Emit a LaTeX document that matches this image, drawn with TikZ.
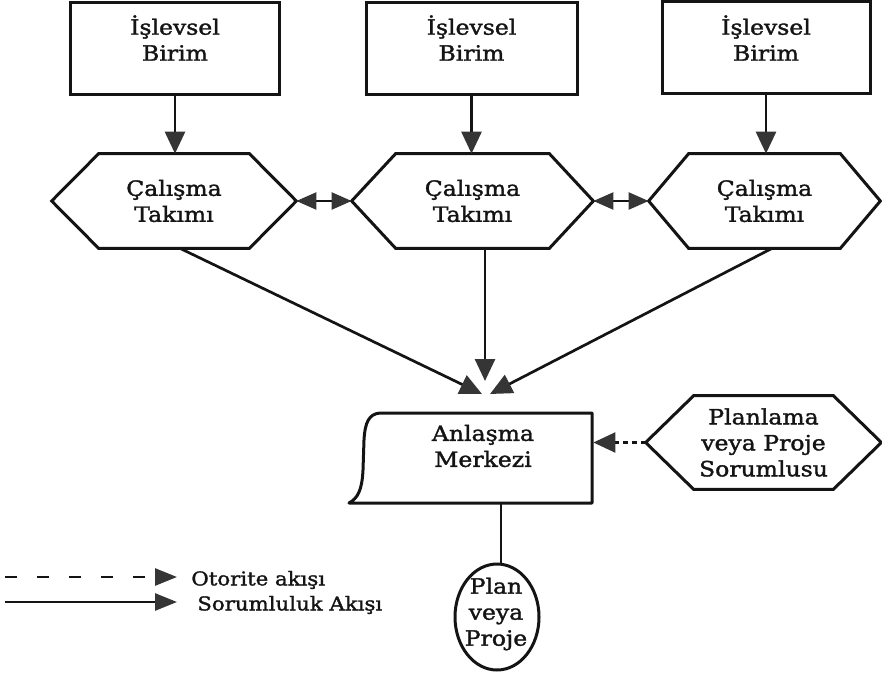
\documentclass[tikz,border=0pt]{standalone}
\usepackage{fontspec}
\setmainfont{DejaVu Serif}[FakeStretch=1.12,FakeBold=1.6]
\usetikzlibrary{arrows.meta,calc,shapes.geometric}
\definecolor{ink}{HTML}{141414}
\definecolor{tipgray}{HTML}{353535}
\newcommand\hexdraw[2]{\draw[hexline] (#1.west) -- ([xshift=#2]#1.north west) -- ([xshift=-#2]#1.north east) -- (#1.east) -- ([xshift=-#2]#1.south east) -- ([xshift=#2]#1.south west) -- cycle;}
\begin{document}
\begin{tikzpicture}[x=1pt,y=-1pt,line width=2.7pt,draw=ink,
  every node/.style={font=\fontsize{21}{26}\selectfont, align=center, inner sep=0pt, text=ink},
  unitbox/.style={draw=ink, line width=3pt, minimum height=92pt},
  hexnode/.style={minimum height=92pt},
  hexline/.style={draw=ink, line width=3pt, line join=miter},
  bigtip/.style={-{Triangle[length=22pt,width=20pt,color=tipgray,fill=tipgray]}},
  dbltip/.style={{Triangle[length=20pt,width=17pt,color=tipgray,fill=tipgray]}-{Triangle[length=20pt,width=17pt,color=tipgray,fill=tipgray]}},
  legtip/.style={-{Triangle[length=22pt,width=17pt,color=tipgray,fill=tipgray]}},
  legfont/.style={font=\fontsize{19}{23}\selectfont}
]
\useasboundingbox (0,0) rectangle (882,674);

% top boxes
\node[unitbox, minimum width=209pt] (b1) at (175,49) {};
\node[unitbox, minimum width=211pt] (b2) at (471.5,49) {};
\node[unitbox, minimum width=208pt] (b3) at (766,48) {};
\node (tb1) at (175,38) {İşlevsel\\Birim};
\node (tb2) at (471.5,38) {İşlevsel\\Birim};
\node (tb3) at (766,38) {İşlevsel\\Birim};

% hexagons
\node[hexnode, minimum width=242pt] (h1) at (174,201) {Çalışma\\Takımı};
\node[hexnode, minimum width=239pt] (h2) at (472.5,201) {Çalışma\\Takımı};
\node[hexnode, minimum width=229pt] (h3) at (764.5,201) {Çalışma\\Takımı};
\hexdraw{h1}{47pt}
\hexdraw{h2}{44pt}
\hexdraw{h3}{40pt}

% unit -> team arrows
\draw[bigtip] (b1.south) -- (b1.south |- h1.north);
\draw[bigtip] (b2.south) -- (b2.south |- h2.north);
\draw[bigtip] (b3.south) -- (b3.south |- h3.north);

% between teams
\draw[dbltip, line width=2.2pt] (h1.east) -- (h2.west);
\draw[dbltip, line width=2.2pt] (h2.east) -- (h3.west);

% converging arrows
\coordinate (mmid) at (485,381);
\coordinate (mleft) at (482,394);
\coordinate (mright) at (490,394);
\draw[bigtip] ([xshift=6pt]h1.south) -- (mleft);
\draw[bigtip] (h2.south -| mmid) -- (mmid);
\draw[bigtip] ([xshift=7.5pt]h3.south) -- (mright);

% Anlasma Merkezi
\node[minimum width=242pt, minimum height=90pt] (am) at (471,458) {};
\draw[hexline, line join=round] (380,413) -- (592,413) -- (592,503) -- (349,503)
  .. controls (358,498) and (362,490) .. (363,470) -- (364,440)
  .. controls (365,422) and (369,414) .. (380,413) -- cycle;
\node (tam) at (483,446) {Anlaşma\\Merkezi};

% Planlama
\node[minimum width=233pt, minimum height=91pt] (pl) at (763.5,442.5) {Planlama\\veya Proje\\Sorumlusu};
\hexdraw{pl}{48pt}
\draw[bigtip, dash pattern=on 5pt off 4pt, line width=2.2pt] (pl.west) -- (pl.west -| am.east);

% plan circle
\node[ellipse, draw=ink, line width=3pt, minimum width=84pt, minimum height=106pt] (circ) at (497,617) {};
\node (tc) at (496,614) {Plan\\veya\\Proje};
\draw ([xshift=4pt]circ.north |- am.south) -- ([xshift=4pt]circ.north);

% legend
\coordinate (l1a) at (5,577);
\coordinate (l1b) at (177,577);
\coordinate (l2a) at (5,602);
\coordinate (l2b) at (177,602);
\draw[legtip, dash pattern=on 12pt off 20pt] (l1a) -- (l1b);
\draw[legtip] (l2a) -- (l2b);
\node[legfont, anchor=west] (lt1) at (190,580) {Otorite akışı};
\node[legfont, anchor=west] (lt2) at (196,605) {Sorumluluk Akışı};
\end{tikzpicture}
\end{document}
